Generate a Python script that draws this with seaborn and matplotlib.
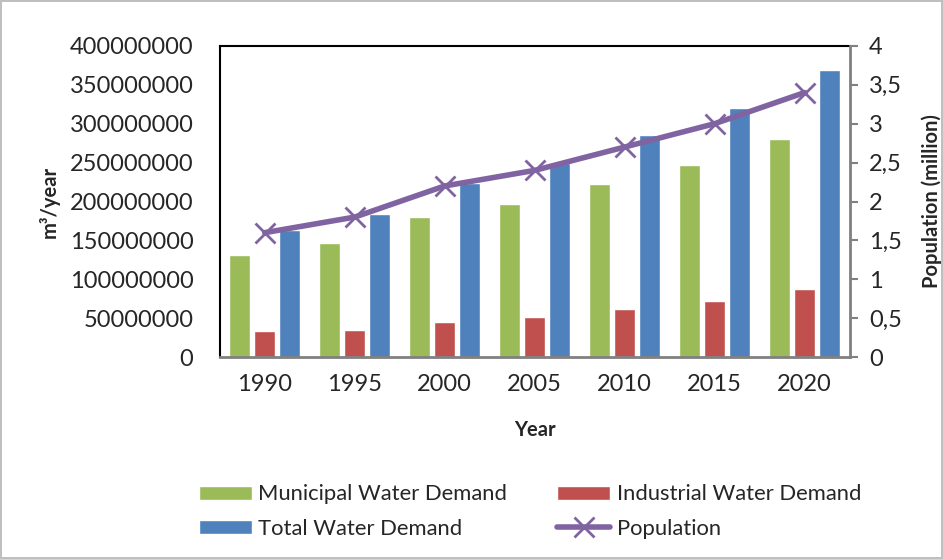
import numpy as np
import pandas as pd
import seaborn as sns
import matplotlib.pyplot as plt
from matplotlib.ticker import FuncFormatter, MultipleLocator

# valores
years = ['1990', '1995', '2000', '2005', '2010', '2015', '2020']
municipal = [131e6, 147e6, 180e6, 197e6, 222e6, 247e6, 280e6]
industrial = [34e6, 35e6, 45e6, 52e6, 62e6, 72e6, 87e6]
total = [164e6, 184e6, 224e6, 250e6, 285e6, 320e6, 369e6]
population = [1.6, 1.8, 2.2, 2.4, 2.7, 3.0, 3.4]

series_names = ['Municipal Water Demand', 'Industrial Water Demand', 'Total Water Demand']
colors = ['#9BBB59', '#C0504D', '#4F81BD']

df = pd.DataFrame({'Year': years * 3,
                   'Demand': municipal + industrial + total,
                   'Series': np.repeat(series_names, len(years))})

sns.set_style('white')
plt.rcParams['font.family'] = ['Lato', 'DejaVu Sans']

fig = plt.figure(figsize=(9.43, 5.59), dpi=100)
fig.patch.set_edgecolor('#BFBFBF')
fig.patch.set_linewidth(1.5)
ax = fig.add_axes([0.233, 0.361, 0.668, 0.557])

sns.barplot(data=df, x='Year', y='Demand', hue='Series', palette=colors,
            saturation=1, width=0.83, gap=0.15, ax=ax, legend=True)

ax.set_ylim(0, 400e6)
ax.yaxis.set_major_locator(MultipleLocator(50e6))
ax.yaxis.set_major_formatter(FuncFormatter(lambda v, p: f'{int(v)}'))
ax.set_xlim(-0.5, len(years) - 0.5)
ax.set_xlabel('Year', fontsize=14.5, fontweight='bold', labelpad=18)
ax.set_ylabel('m³/year', fontsize=14.5, fontweight='bold', labelpad=7)
ax.tick_params(axis='y', labelsize=17, length=0, pad=19)
ax.tick_params(axis='x', labelsize=17, length=0, pad=12)
for s in ['left', 'top']:
    ax.spines[s].set_color('black')
    ax.spines[s].set_linewidth(1.5)
ax.spines['bottom'].set_color('#808080')
ax.spines['bottom'].set_linewidth(2)
ax.spines['right'].set_visible(False)

# eixo secundario - populacao
ax2 = ax.twinx()
sns.lineplot(x=np.arange(len(years)), y=population, ax=ax2, color='#8064A2',
             linewidth=4, marker='x', markersize=14, markeredgewidth=2,
             markeredgecolor='#8064A2', label='Population', legend=False)
ax2.set_ylim(0, 4)
ax2.yaxis.set_major_locator(MultipleLocator(0.5))
ax2.yaxis.set_major_formatter(FuncFormatter(lambda v, p: f'{v:g}'.replace('.', ',')))
ax2.set_ylabel('Population (million)', fontsize=14.5, fontweight='bold', labelpad=14)
ax2.tick_params(axis='y', labelsize=17, length=6, width=1.5, color='#808080', pad=8)
for s in ['left', 'top', 'bottom']:
    ax2.spines[s].set_visible(False)
ax2.spines['right'].set_color('#808080')
ax2.spines['right'].set_linewidth(2)

# legenda
h1, l1 = ax.get_legend_handles_labels()
ax.get_legend().remove()
h2, l2 = ax2.get_legend_handles_labels()
handles = [h1[0], h1[2], h1[1], h2[0]]
labels = [l1[0], l1[2], l1[1], l2[0]]
fig.legend(handles, labels, ncol=2, loc='center', bbox_to_anchor=(0.562, 0.085),
           frameon=False, fontsize=15.8, handlelength=2.4, handleheight=0.6,
           handletextpad=0.3, columnspacing=2.3, labelspacing=0.65)

fig.savefig('out.png', dpi=100)
